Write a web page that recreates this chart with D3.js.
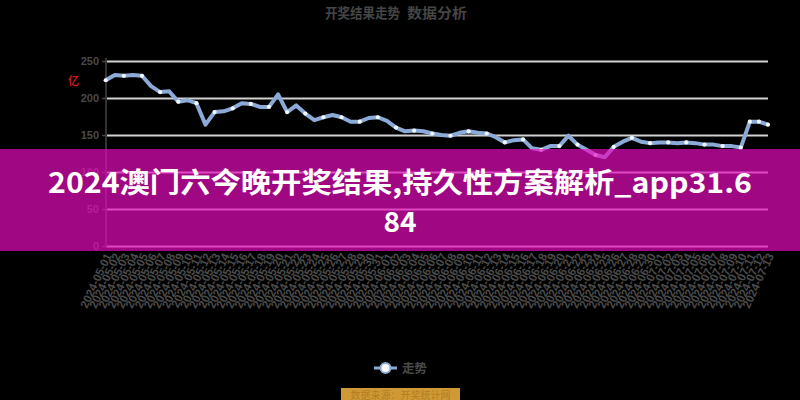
<!DOCTYPE html>
<html>
<head>
<meta charset="utf-8">
<script src="https://cdn.jsdelivr.net/npm/d3@7"></script>
<style>
html,body{margin:0;padding:0;background:#000;}
svg{display:block;}
</style>
</head>
<body>
<svg id="chart" width="800" height="400"></svg>
<script>
const categories = [
"2024-05-01","2024-05-02","2024-05-03","2024-05-04","2024-05-05","2024-05-06","2024-05-07","2024-05-08","2024-05-09","2024-05-10",
"2024-05-11","2024-05-12","2024-05-13","2024-05-14","2024-05-15","2024-05-16","2024-05-17","2024-05-18","2024-05-19","2024-05-20",
"2024-05-21","2024-05-22","2024-05-23","2024-05-24","2024-05-25","2024-05-26","2024-05-27","2024-05-28","2024-05-29","2024-05-30",
"2024-05-31","2024-06-01","2024-06-02","2024-06-03","2024-06-04","2024-06-05","2024-06-06","2024-06-07","2024-06-08","2024-06-09",
"2024-06-10","2024-06-11","2024-06-12","2024-06-13","2024-06-14","2024-06-15","2024-06-16","2024-06-17","2024-06-18","2024-06-19",
"2024-06-20","2024-06-21","2024-06-22","2024-06-23","2024-06-24","2024-06-25","2024-06-26","2024-06-27","2024-06-28","2024-06-29",
"2024-06-30","2024-07-01","2024-07-02","2024-07-03","2024-07-04","2024-07-05","2024-07-06","2024-07-07","2024-07-08","2024-07-09",
"2024-07-10","2024-07-11","2024-07-12","2024-07-13"
];
const values = [
224,231,230,231,230,216,208,209,195,197,
193,164,181,182,186,193,192,188,188,205,
181,190,179,170,174,177,174,168,168,173,
174,169,160,155,156,155,152,150,149,153,
155,153,152,147,140,143,144,132,130,135,
135,149,137,130,123,120,134,141,146,141,
139,140,140,139,140,139,137,137,135,135,
133,168,168,164
];
const yTicks = [0, 50, 100, 150, 200, 250];
const yTickLabels = ["0", "50", "100", "150", "200", "250"];
const seriesName = "走势";
const chartTitleParts = ["开奖结果走势", "数据分析"];
const bannerLines = ["2024澳门六今晚开奖结果,持久性方案解析_app31.6", "84"];
const sourceText = "数据来源：开奖统计网";
const unitText = "亿";

const svg = d3.select("#chart");
svg.append("rect").attr("width", 800).attr("height", 400).attr("fill", "#000");

const plotL = 106, plotR = 768, plotT = 61, plotB = 246;
const x = d3.scalePoint().domain(categories).range([105.7, 768]);
const y = d3.scaleLinear().domain([0, 250]).range([plotB, plotT]);

// top title
svg.append("text").attr("x", 325).attr("y", 18).attr("textLength", 75).attr("lengthAdjust", "spacingAndGlyphs")
  .attr("font-family", "Noto Sans CJK SC").attr("font-weight", "bold").attr("font-size", 14)
  .attr("fill", "#454545").text(chartTitleParts[0]);
svg.append("text").attr("x", 407).attr("y", 18).attr("textLength", 60).attr("lengthAdjust", "spacingAndGlyphs")
  .attr("font-family", "Noto Sans CJK SC").attr("font-weight", "bold").attr("font-size", 14)
  .attr("fill", "#454545").text(chartTitleParts[1]);

// grid
const grid = svg.append("g").attr("transform", `translate(${plotL},0)`)
  .call(d3.axisLeft(y).tickValues(yTicks).tickSize(-(plotR - plotL)).tickFormat(""));
grid.select(".domain").remove();
grid.selectAll("line").attr("stroke", "#d2d2d2").attr("stroke-width", 2);

// y axis
const yAxis = svg.append("g").attr("transform", `translate(${plotL},0)`)
  .call(d3.axisLeft(y).tickValues(yTicks).tickSize(4).tickPadding(3).tickFormat((d, i) => yTickLabels[i]));
yAxis.select(".domain").attr("stroke", "#333").attr("stroke-width", 2).attr("d", `M0,${plotT - 3}V${plotB + 1}`);
yAxis.selectAll(".tick line").attr("stroke", "#444").attr("stroke-width", 1.5);
yAxis.selectAll("text").attr("fill", "#4a4a4a").attr("font-family", "Liberation Sans")
  .attr("font-weight", "bold").attr("font-size", 11);

svg.append("text").attr("x", 68).attr("y", 85).attr("font-family", "Noto Sans CJK SC")
  .attr("font-weight", "bold").attr("font-size", 11).attr("fill", "#c8161d").text(unitText);

// x axis
const xAxis = svg.append("g").attr("transform", `translate(0,${plotB})`)
  .call(d3.axisBottom(x).tickSize(0).tickPadding(0));
xAxis.select(".domain").remove();
xAxis.selectAll("text")
  .attr("font-family", "Liberation Sans").attr("font-weight", "bold").attr("font-size", 11.5)
  .attr("fill", "#4b4b4b").attr("text-anchor", "end")
  .attr("dy", "0.35em").attr("y", 0)
  .attr("transform", "translate(2,8) rotate(-65)");

// line
const lineColor = "#8caad8";
const line = d3.line().x((d, i) => x(categories[i])).y(d => y(d));
svg.append("path").datum(values).attr("d", line).attr("fill", "none")
  .attr("stroke", lineColor).attr("stroke-width", 4).attr("stroke-linejoin", "round");
svg.append("g").selectAll("circle")
  .data(values.map((v, i) => ({v, i})).filter(d => d.i % 2 === 0 || d.i >= values.length - 3))
  .join("circle")
  .attr("cx", d => x(categories[d.i])).attr("cy", d => y(d.v)).attr("r", 2.1)
  .attr("fill", "#f4f8ff");

// legend
const lg = svg.append("g");
lg.append("line").attr("x1", 374).attr("x2", 397).attr("y1", 368).attr("y2", 368)
  .attr("stroke", lineColor).attr("stroke-width", 3);
lg.append("circle").attr("cx", 385.5).attr("cy", 368).attr("r", 5).attr("fill", "#fff")
  .attr("stroke", lineColor).attr("stroke-width", 2);
lg.append("text").attr("x", 402).attr("y", 373).attr("font-family", "Noto Sans CJK SC")
  .attr("font-weight", "bold").attr("font-size", 12.5).attr("fill", "#4a4a4a").text(seriesName);

// source badge
svg.append("rect").attr("x", 341).attr("y", 388).attr("width", 119).attr("height", 14).attr("fill", "#cf9a35");
svg.append("text").attr("x", 400.5).attr("y", 398.5).attr("text-anchor", "middle")
  .attr("font-family", "Noto Sans CJK SC").attr("font-size", 10).attr("fill", "#b37d22").text(sourceText);

// banner overlay
svg.append("rect").attr("x", 0).attr("y", 149).attr("width", 800).attr("height", 102)
  .attr("fill", "rgb(232,10,190)").attr("opacity", 0.69);
svg.append("text").attr("x", 48).attr("y", 193).attr("textLength", 704).attr("lengthAdjust", "spacingAndGlyphs")
  .attr("font-family", "Noto Sans CJK SC").attr("font-weight", "bold").attr("font-size", 28)
  .attr("fill", "#fff").text(bannerLines[0]);
svg.append("text").attr("x", 400).attr("y", 232).attr("text-anchor", "middle")
  .attr("font-family", "Noto Sans CJK SC").attr("font-weight", "bold").attr("font-size", 28)
  .attr("fill", "#fff").text(bannerLines[1]);
</script>
</body>
</html>
